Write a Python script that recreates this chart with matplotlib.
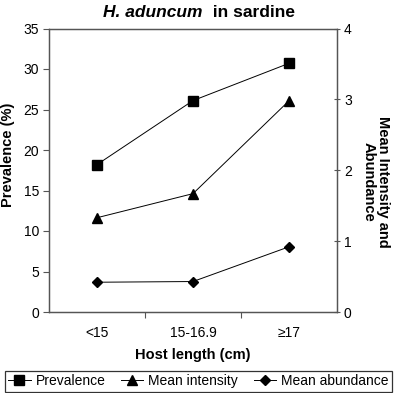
import matplotlib
matplotlib.use('Agg')
import matplotlib.pyplot as plt

plt.rcParams['font.family'] = ['Liberation Sans', 'DejaVu Sans']

# data
categories = ['<15', '15-16.9', '≥17']
prevalence = [18.2, 26.1, 30.7]        # left axis (%)
mean_intensity = [1.33, 1.67, 2.98]    # right axis
mean_abundance = [0.42, 0.43, 0.92]    # right axis

left_ticks = [0, 5, 10, 15, 20, 25, 30, 35]
right_ticks = [0, 1, 2, 3, 4]

W, H = 397, 393
fig = plt.figure(figsize=(3.97, 3.93), dpi=100)
ax = fig.add_axes([49 / W, 1 - 312 / H, 288 / W, 283.5 / H])
ax2 = ax.twinx()

x = list(range(len(categories)))
ax.plot(x, prevalence, color='black', lw=0.7, marker='s', ms=6.5, label='Prevalence')
ax2.plot(x, mean_intensity, color='black', lw=0.7, marker='^', ms=7, label='Mean intensity')
ax2.plot(x, mean_abundance, color='black', lw=0.7, marker='D', ms=5, label='Mean abundance')

ax.set_xlim(-0.5, len(categories) - 0.5)
ax.set_ylim(0, 35)
ax2.set_ylim(0, 4)
ax.set_yticks(left_ticks)
ax2.set_yticks(right_ticks)

# category labels centred, tick marks between categories
ax.set_xticks(x)
ax.set_xticklabels(categories, fontsize=10)
ax.tick_params(axis='x', which='major', length=0, pad=10)
ax.set_xticks([0.5, 1.5], minor=True)
ax.tick_params(axis='x', which='minor', length=4, direction='out', width=0.8, color='#555555')

ax.tick_params(axis='y', labelsize=10, length=4, width=0.8, color='#555555', pad=3)
ax2.tick_params(axis='y', labelsize=10, length=4, width=0.8, direction='inout', color='#555555', pad=3)

for a in (ax, ax2):
    for s in a.spines.values():
        s.set_color('#555555')
        s.set_linewidth(0.9)

# axis titles placed where they sit in the original
fig.text(8 / W, 1 - 155 / H, 'Prevalence (%)', fontsize=10.5, fontweight='bold',
         rotation=90, ha='center', va='center')
fig.text(376 / W, 1 - 182 / H, 'Mean Intensity and\nAbundance', fontsize=10.5,
         fontweight='bold', rotation=270, ha='center', va='center', linespacing=1.05,
         multialignment='center')
ax.set_xlabel('Host length (cm)', fontsize=10.5, fontweight='bold', labelpad=6)

# title: italic species name + plain text, both bold
t1 = fig.text(0, 1 - 17 / H, 'H. aduncum', fontsize=12.5, fontweight='bold', style='italic')
t2 = fig.text(0, 1 - 17 / H, '  in sardine', fontsize=12.5, fontweight='bold')
fig.canvas.draw()
r = fig.canvas.get_renderer()
w1 = t1.get_window_extent(r).width
w2 = t2.get_window_extent(r).width
start = 199 - (w1 + w2) / 2
t1.set_x(start / W)
t2.set_x((start + w1) / W)

h1, l1 = ax.get_legend_handles_labels()
h2, l2 = ax2.get_legend_handles_labels()
leg = fig.legend(h1 + h2, l1 + l2, loc='lower center', bbox_to_anchor=(0.5, 0.0),
                 ncol=3, fontsize=10, frameon=True, fancybox=False, handlelength=1.6,
                 handletextpad=0.35, columnspacing=1.15, borderpad=0.25, borderaxespad=0.1)
leg.get_frame().set_edgecolor('black')
leg.get_frame().set_linewidth(0.9)

plt.savefig('out.png', dpi=100)
plt.close()
